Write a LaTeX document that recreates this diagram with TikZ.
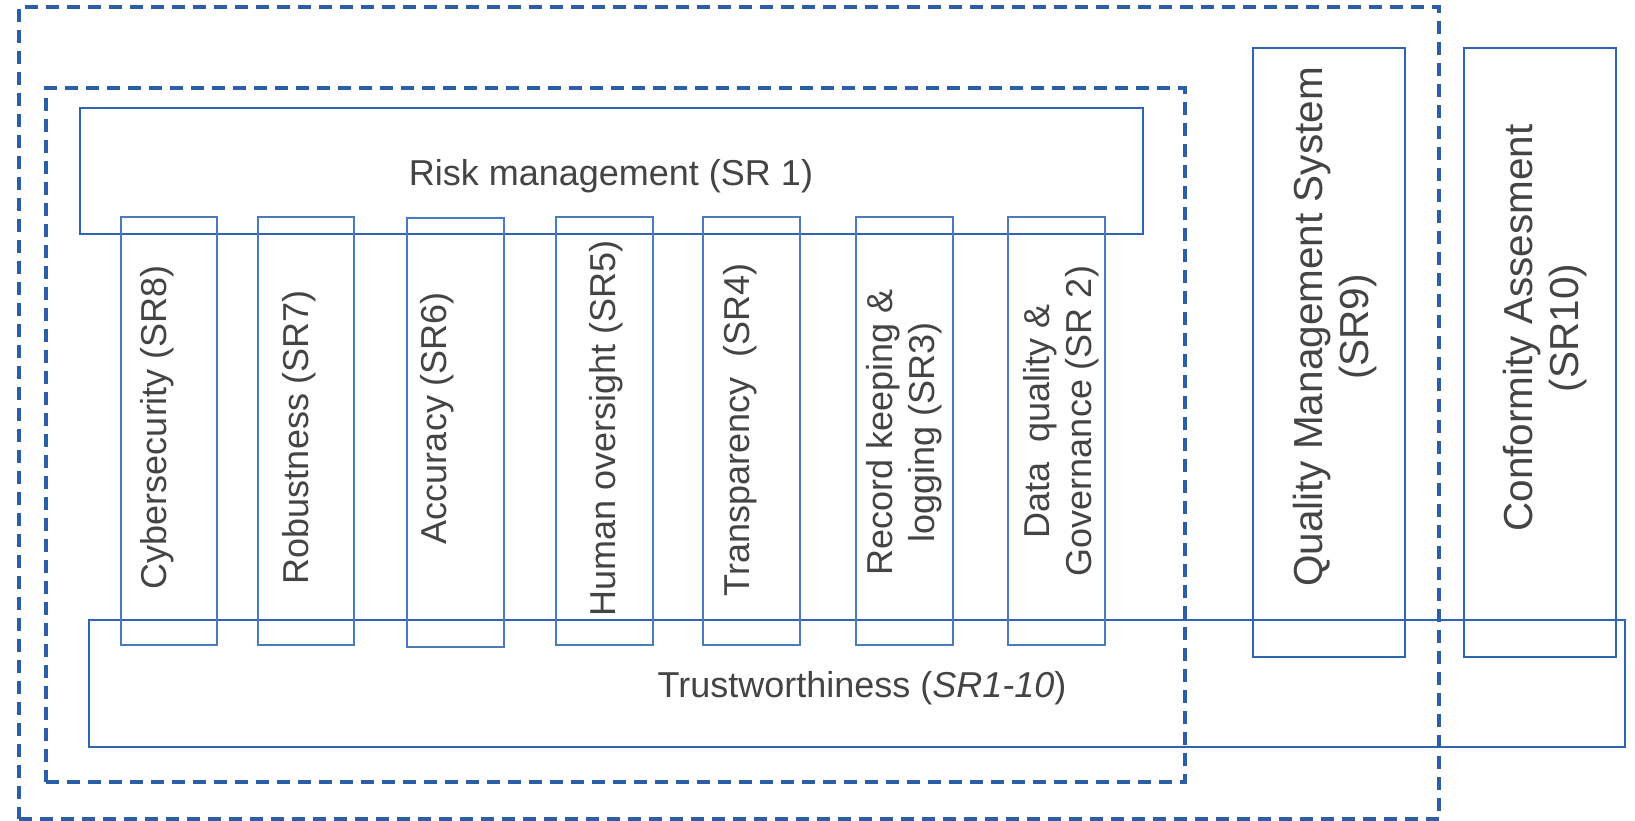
\documentclass[tikz,border=0pt]{standalone}
\usepackage{fontspec}
\setmainfont{Liberation Sans}
\definecolor{boxblue}{HTML}{2E64B2}
\definecolor{thinblue}{HTML}{4A7BC0}
\definecolor{dashblue}{HTML}{2B5EA8}
\definecolor{txtgray}{HTML}{444444}
\begin{document}
\begin{tikzpicture}[x=1pt,y=-1pt,
  bigbox/.style={draw=boxblue, line width=2.4pt, inner sep=0pt, outer sep=0pt, anchor=north west},
  thinbox/.style={draw=thinblue, line width=1.5pt, inner sep=0pt, outer sep=0pt, anchor=north west},
  dashbox/.style={draw=dashblue, line width=3.2pt, dash pattern=on 13pt off 8pt, inner sep=0pt, outer sep=0pt, anchor=north west},
  lbl/.style={text=txtgray, inner sep=0pt, align=center, font=\fontsize{36}{41.5}\selectfont},
  vlbl/.style={lbl, rotate=90},
  rlbl/.style={text=txtgray, inner sep=0pt, align=center, rotate=90, font=\fontsize{40.5}{46}\selectfont}]
\useasboundingbox (0,0) rectangle (1635,821);
\fill[white] (0,0) rectangle (1635,821);
% dashed groups
\node[dashbox, minimum width=1420pt, minimum height=812pt] (outer) at (19,7) {};
\node[dashbox, minimum width=1139pt, minimum height=694pt] (inner) at (46,88) {};
% main boxes
\node[bigbox, minimum width=1063pt, minimum height=126pt] (risk) at (80,108) {};
\node[bigbox, minimum width=1536pt, minimum height=127pt] (trust) at (89,620) {};
\node[bigbox, minimum width=152pt, minimum height=609pt] (qms) at (1253,48) {};
\node[bigbox, minimum width=152pt, minimum height=609pt] (conf) at (1464,48) {};
% pillars
\node[thinbox, minimum width=96pt, minimum height=428pt] (cyber) at (121,217) {};
\node[thinbox, minimum width=96pt, minimum height=428pt] (robust) at (258,217) {};
\node[thinbox, minimum width=97pt, minimum height=429pt] (accur) at (407,218) {};
\node[thinbox, minimum width=97pt, minimum height=428pt] (human) at (556,217) {};
\node[thinbox, minimum width=97pt, minimum height=428pt] (transp) at (703,217) {};
\node[thinbox, minimum width=97pt, minimum height=428pt] (record) at (856,217) {};
\node[thinbox, minimum width=97pt, minimum height=428pt] (data) at (1008,217) {};
% labels
\node[lbl] (riskT) at (611,176) {Risk management (SR 1)};
\node[lbl] (trustT) at (862,688) {Trustworthiness (\textit{SR1-10})};
\node[vlbl] (cyberT) at (157,427) {Cybersecurity (SR8)};
\node[vlbl] (robustT) at (299,437) {Robustness (SR7)};
\node[vlbl] (accurT) at (437,418) {Accuracy (SR6)};
\node[vlbl] (humanT) at (606,428) {Human oversight (SR5)};
\node[vlbl] (transpT) at (740,430) {Transparency~~(SR4)};
\node[vlbl] (recordT) at (904,432) {Record keeping \&\\logging (SR3)};
\node[vlbl] (dataT) at (1061,421) {Data~~quality \&\\Governance (SR 2)};
\node[rlbl] (qmsT) at (1335,327) {Quality Management System\\(SR9)};
\node[rlbl] (confT) at (1545,328) {Conformity Assesment\\(SR10)};
\end{tikzpicture}
\end{document}
